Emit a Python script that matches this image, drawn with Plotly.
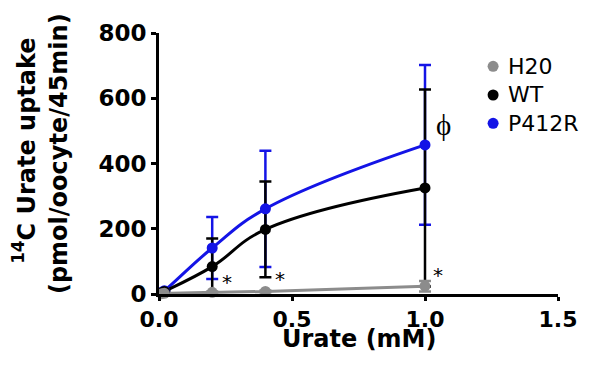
import plotly.graph_objects as go

# ---- data ----
urate_mM = [0.01, 0.02, 0.2, 0.4, 1.0]
h20_vals = [1, 2, 5, 8, 24]
h20_err = [1, 1, 3, 3, 16]
wt_vals = [4, 8, 84, 198, 325]
wt_err = [2, 3, 86, 147, 302]
p412r_vals = [5, 10, 141, 261, 457]
p412r_err = [2, 4, 95, 178, 245]

x_ticks = [0.0, 0.5, 1.0, 1.5]
x_ticklabels = ["0.0", "0.5", "1.0", "1.5"]
y_ticks = [0, 200, 400, 600, 800]

legend_names = ["H20", "WT", "P412R"]
legend_colors = ["#8c8c8c", "#000000", "#1414e6"]

series = [
    # name, values, errors, colour
    ("P412R", p412r_vals, p412r_err, "#1414e6"),
    ("WT", wt_vals, wt_err, "#000000"),
    ("H20", h20_vals, h20_err, "#8c8c8c"),
]

star_x = [0.256, 0.455, 1.05]
star_y = [36, 45, 57]
phi_x, phi_y = 1.068, 517

fig = go.Figure()

# error bars (beneath everything)
for name, vals, err, col in series:
    fig.add_trace(go.Scatter(
        x=urate_mM, y=vals, mode="markers",
        marker=dict(size=1, color="rgba(0,0,0,0)"),
        error_y=dict(type="data", array=err, visible=True, color=col,
                     thickness=2.5, width=6),
        showlegend=False, hoverinfo="skip", cliponaxis=False))

# fitted curves
for name, vals, err, col in series:
    fig.add_trace(go.Scatter(
        x=urate_mM, y=vals, mode="lines",
        line=dict(color=col, width=3, shape="spline", smoothing=1.2),
        showlegend=False, hoverinfo="skip", cliponaxis=False))

# markers
for name, vals, err, col in series:
    fig.add_trace(go.Scatter(
        x=urate_mM, y=vals, mode="markers", name=name,
        marker=dict(size=11, color=col),
        showlegend=False, cliponaxis=False))

# legend (drawn inside the plot area, upper right)
leg_x_marker = 1.256
leg_x_text = 1.305
leg_y = [698, 610, 523]
fig.add_trace(go.Scatter(
    x=[leg_x_marker] * 3, y=leg_y, mode="markers",
    marker=dict(size=11, color=legend_colors),
    showlegend=False, hoverinfo="skip", cliponaxis=False))
for nm, ly in zip(legend_names, leg_y):
    fig.add_annotation(x=leg_x_text, y=ly, text=nm, showarrow=False,
                       xanchor="left", yanchor="middle",
                       font=dict(family="DejaVu Sans", size=22, color="black"))

# significance marks
for sx, sy in zip(star_x, star_y):
    fig.add_annotation(x=sx, y=sy, text="*", showarrow=False,
                       font=dict(family="DejaVu Sans", size=20, color="black"))
fig.add_annotation(x=phi_x, y=phi_y, text="ϕ", showarrow=False,
                   font=dict(family="Liberation Serif, DejaVu Serif", size=29, color="black"))

# axis titles
fig.add_annotation(xref="paper", yref="paper", x=-0.338, y=0.549, xanchor="center", yanchor="middle",
                   text="<b><sup>14</sup>C Urate uptake</b>", textangle=-90, showarrow=False,
                   font=dict(family="DejaVu Sans", size=24, color="black"))
fig.add_annotation(xref="paper", yref="paper", x=-0.252, y=0.538, xanchor="center", yanchor="middle",
                   text="<b>(pmol/oocyte/45min)</b>", textangle=-90, showarrow=False,
                   font=dict(family="DejaVu Sans", size=24, color="black"))
fig.add_annotation(xref="paper", yref="paper", x=0.5, y=-0.172, xanchor="center", yanchor="middle",
                   text="<b>Urate (mM)</b>", showarrow=False,
                   font=dict(family="DejaVu Sans", size=24, color="black"))

# the page adds an 8px body margin, so the figure is 8px smaller than the window
fig.update_layout(
    width=595, height=357,
    margin=dict(l=151, r=45, t=20, b=71),
    paper_bgcolor="white", plot_bgcolor="white",
    font=dict(family="DejaVu Sans", color="black"),
    showlegend=False,
    xaxis=dict(range=[0, 1.5], tickvals=x_ticks, ticktext=x_ticklabels,
               showgrid=False, zeroline=False, showline=True, linecolor="black", linewidth=3,
               ticks="outside", ticklen=4, tickwidth=3, tickcolor="black",
               tickfont=dict(family="DejaVu Sans", size=22, color="black", weight="bold")),
    yaxis=dict(range=[0, 800], tickvals=y_ticks,
               showgrid=False, zeroline=False, showline=True, linecolor="black", linewidth=3,
               ticks="outside", ticklen=5, tickwidth=3, tickcolor="black",
               tickfont=dict(family="DejaVu Sans", size=23, color="black", weight="bold")),
)

fig.write_html("out.html")
